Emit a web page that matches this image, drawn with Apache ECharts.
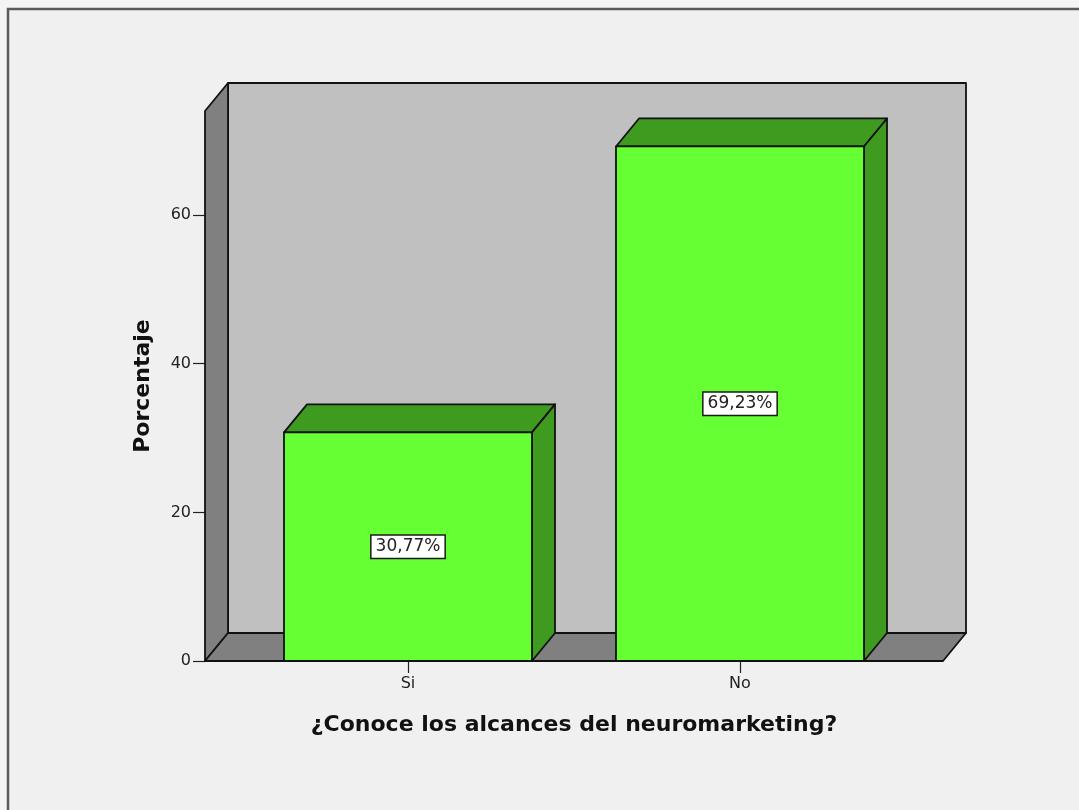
<!DOCTYPE html>
<html>
<head>
<meta charset="utf-8">
<title>¿Conoce los alcances del neuromarketing?</title>
<script src="https://cdn.jsdelivr.net/npm/echarts@6/dist/echarts.min.js"></script>
<style>
  html, body { margin: 0; padding: 0; background: #f4f4f4; }
  #chart { width: 1079px; height: 810px; }
</style>
</head>
<body>
<div id="chart"></div>
<script>
// Survey answers and their share of respondents (%)
const categories = ['Si', 'No'];
const percentages = [30.77, 69.23];
const yTicks = [0, 20, 40, 60];
const yMax = 74;

const xTitle = '¿Conoce los alcances del neuromarketing?';
const yTitle = 'Porcentaje';

// 3D look: depth offset of the box and bars, wall overhang beyond the plot
const DEPTH_X = 23;
const DEPTH_Y = -28;
const WALL_PAD = 37;
const BAR_RATIO = 0.747;

const EDGE = '#111111';
const EDGE_W = 1.8;

function fmtPct(v) {
  return v.toFixed(2).replace('.', ',') + '%';
}

// Back wall, left wall and floor of the 3D box
function renderWalls(params, api) {
  const cs = params.coordSys;
  const L = cs.x - WALL_PAD;
  const R = cs.x + cs.width + WALL_PAD;
  const T = cs.y;
  const B = cs.y + cs.height;
  const style = (fill) => ({ fill: fill, stroke: EDGE, lineWidth: EDGE_W, lineJoin: 'round' });
  return {
    type: 'group',
    children: [
      { type: 'rect', shape: { x: L + DEPTH_X, y: T + DEPTH_Y, width: R - L, height: B - T }, style: style('#c0c0c0') },
      { type: 'polygon', shape: { points: [[L, B], [L, T], [L + DEPTH_X, T + DEPTH_Y], [L + DEPTH_X, B + DEPTH_Y]] }, style: style('#808080') },
      { type: 'polygon', shape: { points: [[L, B], [R, B], [R + DEPTH_X, B + DEPTH_Y], [L + DEPTH_X, B + DEPTH_Y]] }, style: style('#808080') }
    ]
  };
}

// Extruded bars with the value label in the middle of the front face
function renderBar(params, api) {
  const idx = api.value(0);
  const val = api.value(1);
  const top = api.coord([idx, val]);
  const base = api.coord([idx, 0]);
  const w = api.size([1, 0])[0] * BAR_RATIO;
  const x0 = top[0] - w / 2;
  const x1 = x0 + w;
  const yt = top[1];
  const yb = base[1];
  const style = (fill) => ({ fill: fill, stroke: EDGE, lineWidth: EDGE_W, lineJoin: 'round' });
  return {
    type: 'group',
    children: [
      { type: 'polygon', shape: { points: [[x0, yt], [x0 + DEPTH_X, yt + DEPTH_Y], [x1 + DEPTH_X, yt + DEPTH_Y], [x1, yt]] }, style: style('#3f9b1f') },
      { type: 'polygon', shape: { points: [[x1, yt], [x1 + DEPTH_X, yt + DEPTH_Y], [x1 + DEPTH_X, yb + DEPTH_Y], [x1, yb]] }, style: style('#3f9b1f') },
      { type: 'rect', shape: { x: x0, y: yt, width: w, height: yb - yt }, style: style('#66ff33') },
      {
        type: 'text',
        style: {
          text: fmtPct(val),
          x: top[0],
          y: (yt + yb) / 2,
          align: 'center',
          verticalAlign: 'middle',
          fill: '#222',
          font: '17px "DejaVu Sans", sans-serif',
          backgroundColor: '#ffffff',
          borderColor: '#1a1a1a',
          borderWidth: 1.5,
          padding: [3, 4, 2, 4]
        }
      }
    ]
  };
}

const chart = echarts.init(document.getElementById('chart'), null, { renderer: 'canvas' });

chart.setOption({
  backgroundColor: '#f4f4f4',
  animation: false,
  graphic: [
    {
      type: 'rect',
      z: -10,
      shape: { x: 8, y: 9, width: 1200, height: 900 },
      style: { fill: '#f0f0f0', stroke: '#5a5a5a', lineWidth: 2.5 }
    }
  ],
  grid: { left: 242, top: 111, width: 664, height: 550, containLabel: false },
  xAxis: {
    type: 'category',
    data: categories,
    boundaryGap: true,
    name: xTitle,
    nameLocation: 'middle',
    nameGap: 53,
    nameTextStyle: { fontFamily: 'DejaVu Sans', fontWeight: 'bold', fontSize: 22, color: '#111' },
    axisLine: { show: false },
    axisTick: { show: true, alignWithLabel: true, length: 12, lineStyle: { color: '#222', width: 1.2 } },
    axisLabel: { margin: 15, fontFamily: 'DejaVu Sans', fontSize: 16, color: '#222' },
    splitLine: { show: false },
    z: 0
  },
  yAxis: {
    type: 'value',
    min: 0,
    max: yMax,
    interval: 20,
    offset: WALL_PAD,
    name: yTitle,
    nameLocation: 'middle',
    nameRotate: 90,
    nameGap: 51,
    nameTextStyle: { fontFamily: 'DejaVu Sans', fontWeight: 'bold', fontSize: 22, color: '#111' },
    axisLine: { show: false },
    axisTick: { show: true, inside: false, length: 12, customValues: yTicks, lineStyle: { color: '#222', width: 1.2 } },
    axisLabel: { margin: 14, fontFamily: 'DejaVu Sans', fontSize: 16, color: '#222', customValues: yTicks },
    splitLine: { show: false }
  },
  series: [
    {
      type: 'custom',
      name: 'walls',
      z: 1,
      silent: true,
      renderItem: renderWalls,
      data: [[0, 0]]
    },
    {
      type: 'custom',
      name: 'Porcentaje',
      z: 2,
      renderItem: renderBar,
      encode: { x: 0, y: 1 },
      data: percentages.map((v, i) => [i, v])
    }
  ]
});
</script>
</body>
</html>
